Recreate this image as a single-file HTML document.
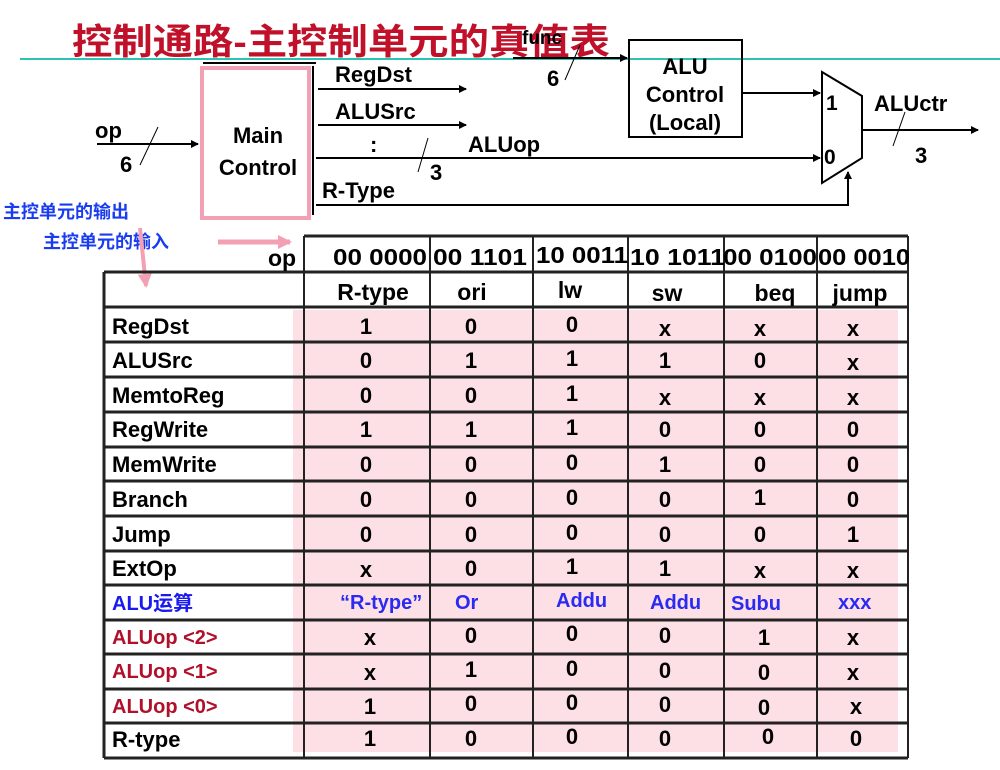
<!DOCTYPE html>
<html><head><meta charset="utf-8"><style>
body{margin:0;background:#fff;width:1000px;height:765px;overflow:hidden}
svg text{font-family:"Liberation Sans","Noto Sans CJK SC",sans-serif;font-weight:bold}
</style></head><body>
<svg width="1000" height="765" viewBox="0 0 1000 765" xmlns="http://www.w3.org/2000/svg">
<defs><marker id="a" markerWidth="8" markerHeight="8" refX="7" refY="4" orient="auto" markerUnits="userSpaceOnUse"><path d="M0,0 L8,4 L0,8 z" fill="#000"/></marker>
<marker id="p" markerWidth="14" markerHeight="14" refX="12" refY="7" orient="auto" markerUnits="userSpaceOnUse"><path d="M0,0 L14,7 L0,14 z" fill="#f4a0b4"/></marker></defs>
<text x="72" y="54" font-size="36" fill="#c0102a" textLength="538" lengthAdjust="spacingAndGlyphs">控制通路-主控制单元的真值表</text>
<line x1="20" y1="59" x2="1000" y2="59" stroke="#2cc3b0" stroke-width="2"/>
<!-- main control -->
<line x1="203" y1="63" x2="316" y2="63" stroke="#000" stroke-width="2"/>
<rect x="202" y="68" width="107" height="150" fill="none" stroke="#f4a0b4" stroke-width="4"/>
<line x1="313" y1="66" x2="313" y2="215" stroke="#000" stroke-width="2"/>
<text x="258" y="143" font-size="22" text-anchor="middle">Main</text>
<text x="258" y="175" font-size="22" text-anchor="middle">Control</text>
<line x1="97" y1="144" x2="198" y2="144" stroke="#000" stroke-width="2" marker-end="url(#a)"/>
<text x="95" y="138" font-size="22">op</text><text x="120" y="172" font-size="22">6</text>
<line x1="140" y1="165" x2="158" y2="127" stroke="#000"/>
<line x1="318" y1="89" x2="466" y2="89" stroke="#000" stroke-width="2" marker-end="url(#a)"/>
<text x="335" y="82" font-size="22">RegDst</text>
<line x1="318" y1="125" x2="466" y2="125" stroke="#000" stroke-width="2" marker-end="url(#a)"/>
<text x="335" y="119" font-size="22">ALUSrc</text>
<text x="370" y="152" font-size="22">:</text>
<line x1="316" y1="158" x2="820" y2="158" stroke="#000" stroke-width="2" marker-end="url(#a)"/>
<text x="468" y="152" font-size="22">ALUop</text>
<line x1="418" y1="172" x2="428" y2="138" stroke="#000"/><text x="430" y="180" font-size="22">3</text>
<text x="322" y="198" font-size="22">R-Type</text>
<polyline points="316,205 848,205 848,172" fill="none" stroke="#000" stroke-width="2" marker-end="url(#a)"/>
<!-- ALU control -->
<rect x="629" y="40" width="113" height="97" fill="none" stroke="#000" stroke-width="2"/>
<text x="685" y="74" font-size="22" text-anchor="middle">ALU</text>
<text x="685" y="102" font-size="22" text-anchor="middle">Control</text>
<text x="685" y="130" font-size="22" text-anchor="middle">(Local)</text>
<line x1="513" y1="58" x2="627" y2="58" stroke="#000" stroke-width="2" marker-end="url(#a)"/>
<text x="522" y="44" font-size="19">func</text><text x="547" y="86" font-size="22">6</text>
<line x1="565" y1="80" x2="580" y2="45" stroke="#000"/>
<line x1="743" y1="93" x2="820" y2="93" stroke="#000" stroke-width="2" marker-end="url(#a)"/>
<polygon points="822,72 862,96 862,158 822,183" fill="#fff" stroke="#000" stroke-width="2"/>
<text x="826" y="110" font-size="21">1</text><text x="824" y="164" font-size="21">0</text>
<line x1="862" y1="130" x2="978" y2="130" stroke="#000" stroke-width="2" marker-end="url(#a)"/>
<text x="874" y="111" font-size="22">ALUctr</text>
<line x1="893" y1="146" x2="905" y2="112" stroke="#000"/><text x="915" y="163" font-size="22">3</text>
<!-- annotations -->
<text x="3" y="218" font-size="18" fill="#1a3cf0">主控单元的输出</text>
<text x="43" y="248" font-size="18" fill="#1a3cf0">主控单元的输入</text>
<line x1="140" y1="228" x2="146" y2="286" stroke="#f4a0b4" stroke-width="4" marker-end="url(#p)"/>
<line x1="218" y1="242" x2="290" y2="242" stroke="#f4a0b4" stroke-width="5" marker-end="url(#p)"/>
<!-- table -->
<rect x="293" y="310" width="605" height="442" fill="#fde0e6"/>
<g stroke="#222" stroke-width="3">
<line x1="304" y1="236" x2="908" y2="236"/>
<line x1="104" y1="272" x2="908" y2="272"/>
<line x1="104" y1="307" x2="908" y2="307"/>
<line x1="104" y1="272" x2="104" y2="758"/>
<line x1="104" y1="758" x2="908" y2="758"/>
</g>
<g stroke="#222" stroke-width="2">
<line x1="304" y1="236" x2="304" y2="758"/><line x1="430" y1="236" x2="430" y2="758"/>
<line x1="533" y1="236" x2="533" y2="758"/><line x1="628" y1="236" x2="628" y2="758"/>
<line x1="724" y1="236" x2="724" y2="758"/><line x1="817" y1="236" x2="817" y2="758"/>
<line x1="908" y1="236" x2="908" y2="758"/>
</g>
<g stroke="#222" stroke-width="3">
<line x1="104" y1="342" x2="908" y2="342"/><line x1="104" y1="377" x2="908" y2="377"/>
<line x1="104" y1="412" x2="908" y2="412"/><line x1="104" y1="447" x2="908" y2="447"/>
<line x1="104" y1="481" x2="908" y2="481"/><line x1="104" y1="516" x2="908" y2="516"/>
<line x1="104" y1="551" x2="908" y2="551"/><line x1="104" y1="585" x2="908" y2="585"/>
<line x1="104" y1="620" x2="908" y2="620"/><line x1="104" y1="654" x2="908" y2="654"/>
<line x1="104" y1="689" x2="908" y2="689"/><line x1="104" y1="723" x2="908" y2="723"/>
</g>
<g font-size="23">
<text x="268" y="266">op</text>
<text x="333" y="265" textLength="94" lengthAdjust="spacingAndGlyphs">00 0000</text>
<text x="433" y="265" textLength="94" lengthAdjust="spacingAndGlyphs">00 1101</text>
<text x="536" y="263" textLength="92" lengthAdjust="spacingAndGlyphs">10 0011</text>
<text x="630" y="265" textLength="95" lengthAdjust="spacingAndGlyphs">10 1011</text>
<text x="723" y="265" textLength="94" lengthAdjust="spacingAndGlyphs">00 0100</text>
<text x="818" y="265" textLength="92" lengthAdjust="spacingAndGlyphs">00 0010</text>
</g>
<g font-size="23" text-anchor="middle">
<text x="373" y="300">R-type</text><text x="472" y="300">ori</text><text x="570" y="298">lw</text>
<text x="667" y="301">sw</text><text x="775" y="301">beq</text><text x="860" y="301">jump</text>
</g>
<g font-size="22">
<text x="112" y="334">RegDst</text><text x="112" y="368">ALUSrc</text><text x="112" y="403">MemtoReg</text>
<text x="112" y="437">RegWrite</text><text x="112" y="472">MemWrite</text><text x="112" y="507">Branch</text>
<text x="112" y="542">Jump</text><text x="112" y="576">ExtOp</text>
<text x="112" y="610" fill="#1a1af0" font-size="20">ALU运算</text>
<text x="112" y="644" fill="#b0102a" font-size="20">ALUop &lt;2&gt;</text>
<text x="112" y="678" fill="#b0102a" font-size="20">ALUop &lt;1&gt;</text>
<text x="112" y="713" fill="#b0102a" font-size="20">ALUop &lt;0&gt;</text>
<text x="112" y="747">R-type</text>
</g>
<g font-size="22" text-anchor="middle">
<text x="366" y="334">1</text><text x="471" y="334">0</text><text x="572" y="332">0</text><text x="665" y="336">x</text><text x="760" y="336">x</text><text x="853" y="336">x</text>
<text x="366" y="368">0</text><text x="471" y="368">1</text><text x="572" y="366">1</text><text x="665" y="368">1</text><text x="760" y="368">0</text><text x="853" y="370">x</text>
<text x="366" y="403">0</text><text x="471" y="403">0</text><text x="572" y="401">1</text><text x="665" y="405">x</text><text x="760" y="405">x</text><text x="853" y="405">x</text>
<text x="366" y="437">1</text><text x="471" y="437">1</text><text x="572" y="435">1</text><text x="665" y="437">0</text><text x="760" y="437">0</text><text x="853" y="437">0</text>
<text x="366" y="472">0</text><text x="471" y="472">0</text><text x="572" y="470">0</text><text x="665" y="472">1</text><text x="760" y="472">0</text><text x="853" y="472">0</text>
<text x="366" y="507">0</text><text x="471" y="507">0</text><text x="572" y="505">0</text><text x="665" y="507">0</text><text x="760" y="505">1</text><text x="853" y="507">0</text>
<text x="366" y="542">0</text><text x="471" y="542">0</text><text x="572" y="540">0</text><text x="665" y="542">0</text><text x="760" y="542">0</text><text x="853" y="542">1</text>
<text x="366" y="577">x</text><text x="471" y="576">0</text><text x="572" y="574">1</text><text x="665" y="576">1</text><text x="760" y="578">x</text><text x="853" y="578">x</text>
</g>
<g font-size="20" fill="#2a2af0">
<text x="340" y="609">“R-type”</text><text x="455" y="609">Or</text><text x="556" y="607">Addu</text>
<text x="650" y="609">Addu</text><text x="731" y="610">Subu</text><text x="838" y="609">xxx</text>
</g>
<g font-size="22" text-anchor="middle">
<text x="370" y="645">x</text><text x="471" y="643">0</text><text x="572" y="641">0</text><text x="665" y="643">0</text><text x="764" y="645">1</text><text x="853" y="645">x</text>
<text x="370" y="680">x</text><text x="471" y="677">1</text><text x="572" y="676">0</text><text x="665" y="678">0</text><text x="764" y="680">0</text><text x="853" y="680">x</text>
<text x="370" y="714">1</text><text x="471" y="711">0</text><text x="572" y="710">0</text><text x="665" y="712">0</text><text x="764" y="715">0</text><text x="856" y="714">x</text>
<text x="370" y="746">1</text><text x="471" y="746">0</text><text x="572" y="744">0</text><text x="665" y="746">0</text><text x="768" y="744">0</text><text x="856" y="746">0</text>
</g>
</svg>
</body></html>
